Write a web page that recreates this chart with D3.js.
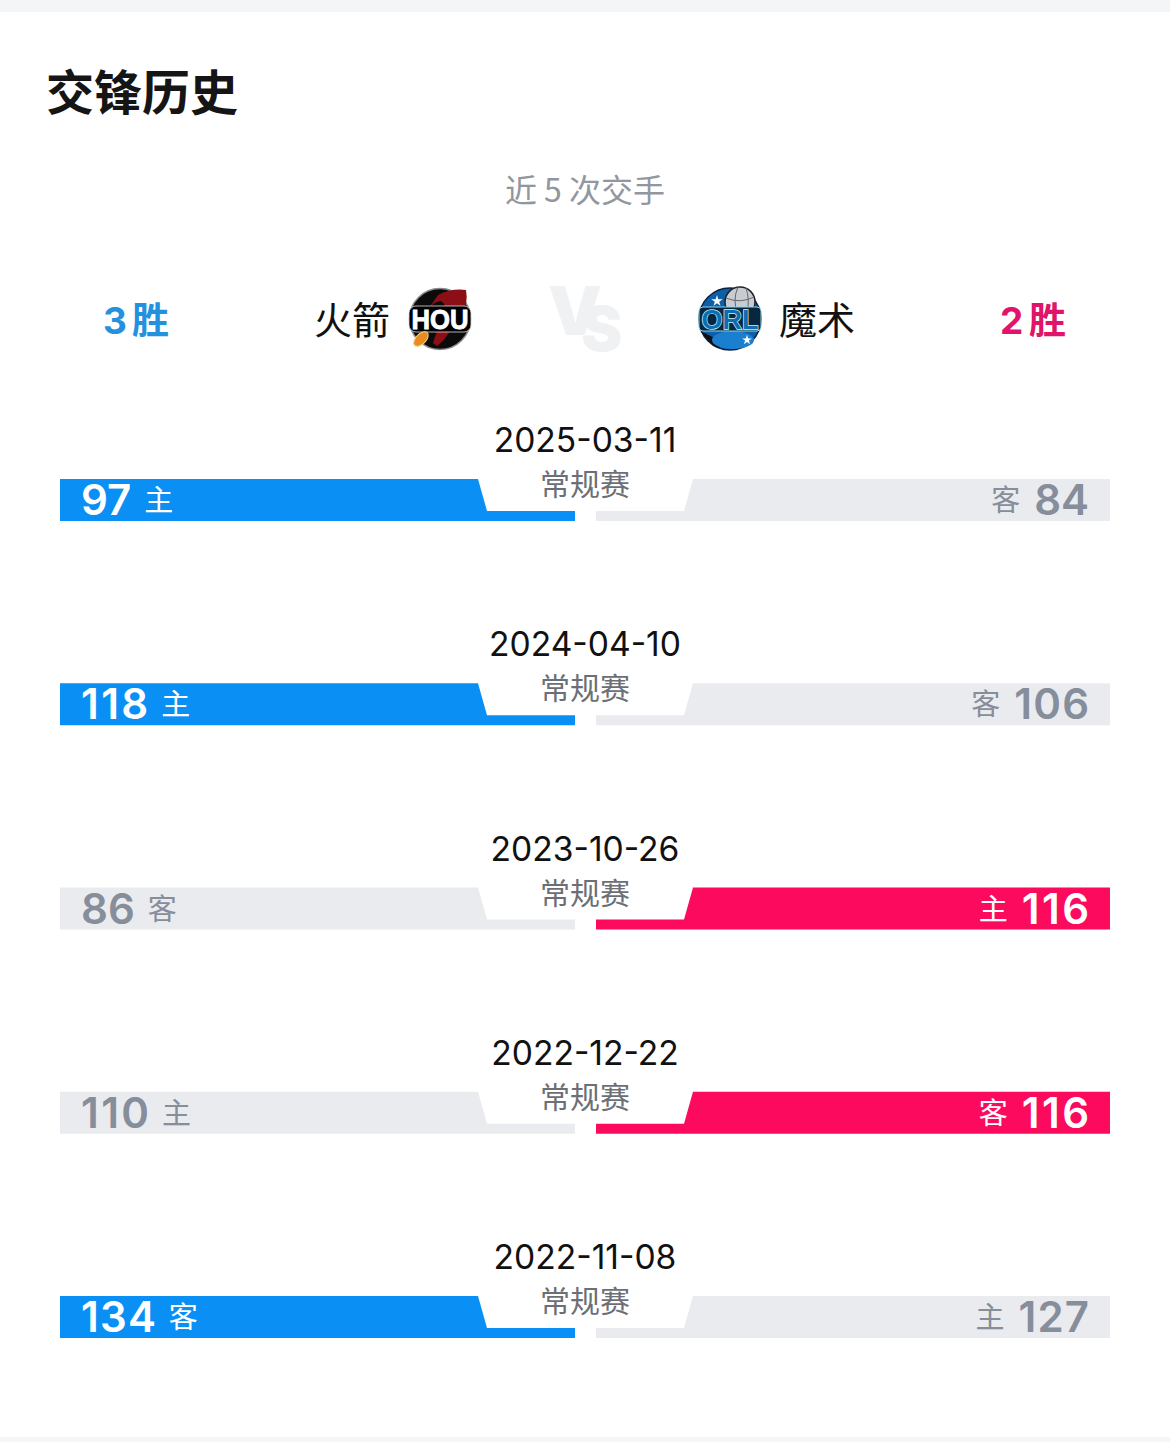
<!DOCTYPE html>
<html><head><meta charset="utf-8">
<script src="https://cdnjs.cloudflare.com/ajax/libs/d3/7.8.5/d3.min.js"></script>
<style>html,body{margin:0;padding:0;background:#fff}svg{display:block}
text{font-family:"Noto Sans CJK SC","Noto Sans",sans-serif}
.num{font-family:Inter,Roboto,sans-serif}
.logo{font-family:"Liberation Sans",sans-serif}</style></head><body>
<script>
const dates=["2025-03-11","2024-04-10","2023-10-26","2022-12-22","2022-11-08"];
const gameTypes=["常规赛","常规赛","常规赛","常规赛","常规赛"];
const rocketsScores=[97,118,86,110,134];
const magicScores=[84,106,116,116,127];
const rocketsVenue=["主","主","客","主","客"];
const magicVenue=["客","客","主","客","主"];
const rocketsWinner=[true,true,false,false,true];
const teams=["火箭","魔术"];
const winCounts=[["3","胜"],["2","胜"]];
const W=1170,H=1442,BLUE="#0a8ff5",PINK="#fb0a5e",GREY="#e9ebee",TXT="#868d9b";
const svg=d3.select("body").append("svg").attr("width",W).attr("height",H);
svg.append("rect").attr("width",W).attr("height",H).attr("fill","#fff");
svg.append("rect").attr("width",W).attr("height",12).attr("fill","#f3f5f7");
svg.append("rect").attr("y",1437).attr("width",W).attr("height",5).attr("fill","#f5f6f8");
const T=(x,y,s,size,fill,weight,anchor,cls)=>svg.append("text").attr("x",x).attr("y",y).text(s)
  .attr("font-size",size).attr("fill",fill).attr("font-weight",weight||400).attr("text-anchor",anchor||"middle").attr("class",cls||null);
T(46,110,"交锋历史",48,"#151515",700,"start");
T(585,202,"近 5 次交手",32,"#92969f",400);
[[103,"#2491df"],[1000,"#e0146a"]].forEach(([x,c],i)=>{
  T(x,334,winCounts[i][0],37,c,700,"start","num");
  T(x+29,334,winCounts[i][1],37,c,700,"start");
});
T(352,334,teams[0],38,"#111",400);
T(817,334,teams[1],38,"#111",400);
// VS mark: one text, the S dropped and tucked under the V
const vs=svg.append("text").attr("class","num").attr("x",548).attr("y",335).attr("fill","#f0f1f2").attr("font-weight",900).attr("text-anchor","start");
vs.append("tspan").attr("font-size",68).text("V");
vs.append("tspan").attr("font-size",62).attr("dx",-21).attr("dy",16).text("S");
// Rockets logo
const hou=svg.append("g").attr("transform","translate(440,319)");
hou.append("circle").attr("r",30.5).attr("fill","#0b0b0b").attr("stroke","#8a8a8a").attr("stroke-width",1.5);
hou.append("path").attr("d","M-13,-8 L-2,-24 Q12,-31 26,-29 Q29,-14 20,-2 L10,12 Q4,22 -3,27 L-7,24 Q-2,8 4,-4 Q8,-14 1,-18 Q-6,-18 -13,-8 Z").attr("fill","#8d0f16");
hou.append("rect").attr("x",-31).attr("y",-13).attr("width",62).attr("height",26).attr("rx",7).attr("fill","#000").attr("stroke","#ddd").attr("stroke-width",.8);
hou.append("ellipse").attr("cx",-19).attr("cy",20).attr("rx",9).attr("ry",5).attr("transform","rotate(-45 -19 20)").attr("fill","#e98a22").attr("stroke","#f3d27a");
hou.append("text").attr("class","logo").attr("text-anchor","middle").attr("y",10).attr("font-size",28).attr("font-weight",700)
 .attr("fill","#fff").attr("stroke","#fff").attr("stroke-width",.9).attr("textLength",57).attr("lengthAdjust","spacingAndGlyphs").text("HOU");
// Magic logo
const orl=svg.append("g").attr("transform","translate(730,319)");
orl.append("circle").attr("r",31).attr("fill","#0f5fa8").attr("stroke","#0a2342").attr("stroke-width",1.5);
const ball=orl.append("g").attr("transform","translate(10,-17)");
ball.append("circle").attr("r",15).attr("fill","#c9ccd3").attr("stroke","#222").attr("stroke-width",1.5);
ball.append("path").attr("d","M-14,-4 Q0,2 14,-5 M-2,-15 Q-8,-2 -2,14 M6,-14 Q10,-3 7,12").attr("fill","none").attr("stroke","#666").attr("stroke-width",1);
orl.append("path").attr("d","M-29,13 Q-12,18 -10,29 L-16,27 Q-24,20 -29,13 Z").attr("fill","#111");
orl.append("ellipse").attr("cx",3).attr("cy",21).attr("rx",21).attr("ry",9).attr("fill","#1b7fd0");
orl.append("path").attr("d",d3.symbol(d3.symbolStar,40)()).attr("transform","translate(-13,-18)").attr("fill","#fff");
orl.append("path").attr("d",d3.symbol(d3.symbolStar,30)()).attr("transform","translate(17,21)").attr("fill","#fff");
orl.append("rect").attr("x",-31).attr("y",-12).attr("width",62).attr("height",24).attr("rx",4).attr("fill","#08263f").attr("stroke","#8fd6ea").attr("stroke-width",1);
orl.append("text").attr("class","logo").attr("text-anchor","middle").attr("y",9.5).attr("font-size",27).attr("font-weight",700)
 .attr("fill","#0a6fb0").attr("stroke","#d8f3fa").attr("stroke-width",1.4).attr("paint-order","stroke").attr("textLength",57).attr("lengthAdjust","spacingAndGlyphs").text("ORL");

const y=d3.scaleLinear().domain([0,4]).range([479,1296]);
const xL=d3.scaleLinear().domain([0,1]).range([60,575]);
const xR=d3.scaleLinear().domain([0,1]).range([1110,596]);
const barH=42,thin=10,slant=9,notch=97;
// widen the narrow "1" glyph the way the reference's numerals do
const widen=(sel,per)=>{const s=sel.text(),n=(s.match(/1/g)||[]).length,w=sel.node().getComputedTextLength();
  if(n)sel.attr("textLength",w+n*per).attr("lengthAdjust","spacing");return w+n*per;};
dates.forEach((d,i)=>{
  const t=y(i),b=t+barH,m=b-thin;
  const lp=d3.path();lp.moveTo(xL(0),t);lp.lineTo(xL(1)-notch,t);lp.lineTo(xL(1)-notch+slant,m);lp.lineTo(xL(1),m);lp.lineTo(xL(1),b);lp.lineTo(xL(0),b);lp.closePath();
  const rp=d3.path();rp.moveTo(xR(0),t);rp.lineTo(xR(1)+notch,t);rp.lineTo(xR(1)+notch-slant,m);rp.lineTo(xR(1),m);rp.lineTo(xR(1),b);rp.lineTo(xR(0),b);rp.closePath();
  const lw=rocketsWinner[i];
  svg.append("path").attr("d",lp.toString()).attr("fill",lw?BLUE:GREY);
  svg.append("path").attr("d",rp.toString()).attr("fill",lw?GREY:PINK);
  T(585,t-27,d,33.6,"#111",400,"middle","num");
  T(585,t+16,gameTypes[i],30,"#6c6f76",400);
  const base=t+36;
  const ln=T(xL(0)+21,base,rocketsScores[i],42,lw?"#fff":TXT,600,"start","num");
  const lw2=widen(ln,2.4);
  T(xL(0)+21+lw2+13,base-4,rocketsVenue[i],29,lw?"#fff":TXT,400,"start");
  const rn=T(xR(0)-21,base,magicScores[i],42,lw?TXT:"#fff",600,"end","num");
  const rw2=widen(rn,2.4);
  T(xR(0)-21-rw2-14,base-4,magicVenue[i],29,lw?TXT:"#fff",400,"end");
});
</script></body></html>
